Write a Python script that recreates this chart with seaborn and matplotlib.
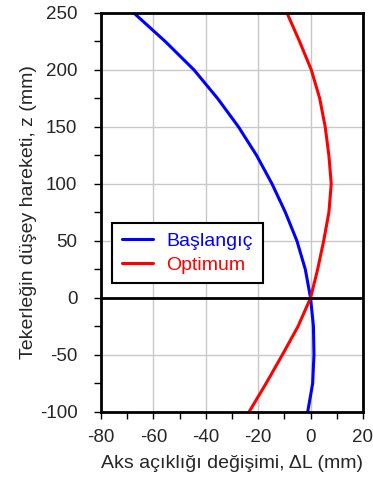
import matplotlib
matplotlib.use("Agg")
import matplotlib.pyplot as plt
import seaborn as sns
import pandas as pd
from matplotlib.ticker import MultipleLocator

# Data
z = [250, 225, 200, 175, 150, 125, 100, 75, 50, 25, 0, -25, -50, -75, -100]
dl_baslangic = [-67.5, -55.5, -44.5, -35.5, -27.5, -20.6, -14.7, -9.6, -5.2, -2.0,
                0.0, 1.1, 1.3, 0.8, -1.1]
dl_optimum = [-9.0, -4.2, 0.3, 3.5, 5.6, 7.0, 7.9, 7.0, 5.0, 2.7,
              0.0, -4.8, -10.8, -17.0, -23.5]
series_names = ["Başlangıç", "Optimum"]
series_colors = ["#0000ff", "#ff0000"]

df = pd.concat([
    pd.DataFrame({"z": z, "dL": dl_baslangic, "seri": series_names[0]}),
    pd.DataFrame({"z": z, "dL": dl_optimum, "seri": series_names[1]}),
])

sns.set_style("white")
plt.rcParams["font.family"] = ["Liberation Sans", "DejaVu Sans"]
plt.rcParams["axes.unicode_minus"] = False

fig = plt.figure(figsize=(3.73, 4.79), dpi=100)
ax = fig.add_axes([0.271, 0.140, 0.702, 0.833])

sns.lineplot(data=df, x="dL", y="z", hue="seri", palette=series_colors,
             orient="y", sort=False, estimator=None, linewidth=2.2, ax=ax)

ax.axhline(0, color="black", linewidth=2, zorder=3)

ax.set_xlim(-80, 20)
ax.set_ylim(-100, 250)
ax.xaxis.set_major_locator(MultipleLocator(20))
ax.xaxis.set_minor_locator(MultipleLocator(10))
ax.yaxis.set_major_locator(MultipleLocator(50))
ax.yaxis.set_minor_locator(MultipleLocator(25))
ax.grid(True, which="major", color="#c8c8c8", linewidth=1)
ax.set_axisbelow(True)

for sp in ax.spines.values():
    sp.set_color("black")
    sp.set_linewidth(2)

ax.tick_params(which="both", direction="out", color="black", left=True, bottom=True,
               labelsize=13.5)
ax.tick_params(which="major", length=5, width=1)
ax.tick_params(which="minor", length=5, width=1)
ax.tick_params(axis="y", pad=12)
ax.tick_params(axis="x", pad=7)

ax.set_xlabel("Aks açıklığı değişimi, ΔL (mm)", fontsize=14, labelpad=7)
ax.set_ylabel("Tekerleğin düşey hareketi, z (mm)", fontsize=14, labelpad=2)

leg = ax.legend(loc="upper left", bbox_to_anchor=(0.042, 0.474), fontsize=14,
                frameon=True, fancybox=False, edgecolor="black", framealpha=1,
                labelcolor="linecolor", handlelength=1.6, borderpad=0.5,
                labelspacing=0.3, handletextpad=0.7, borderaxespad=0)
leg.get_frame().set_linewidth(1.5)

fig.savefig("out.png", dpi=100)
